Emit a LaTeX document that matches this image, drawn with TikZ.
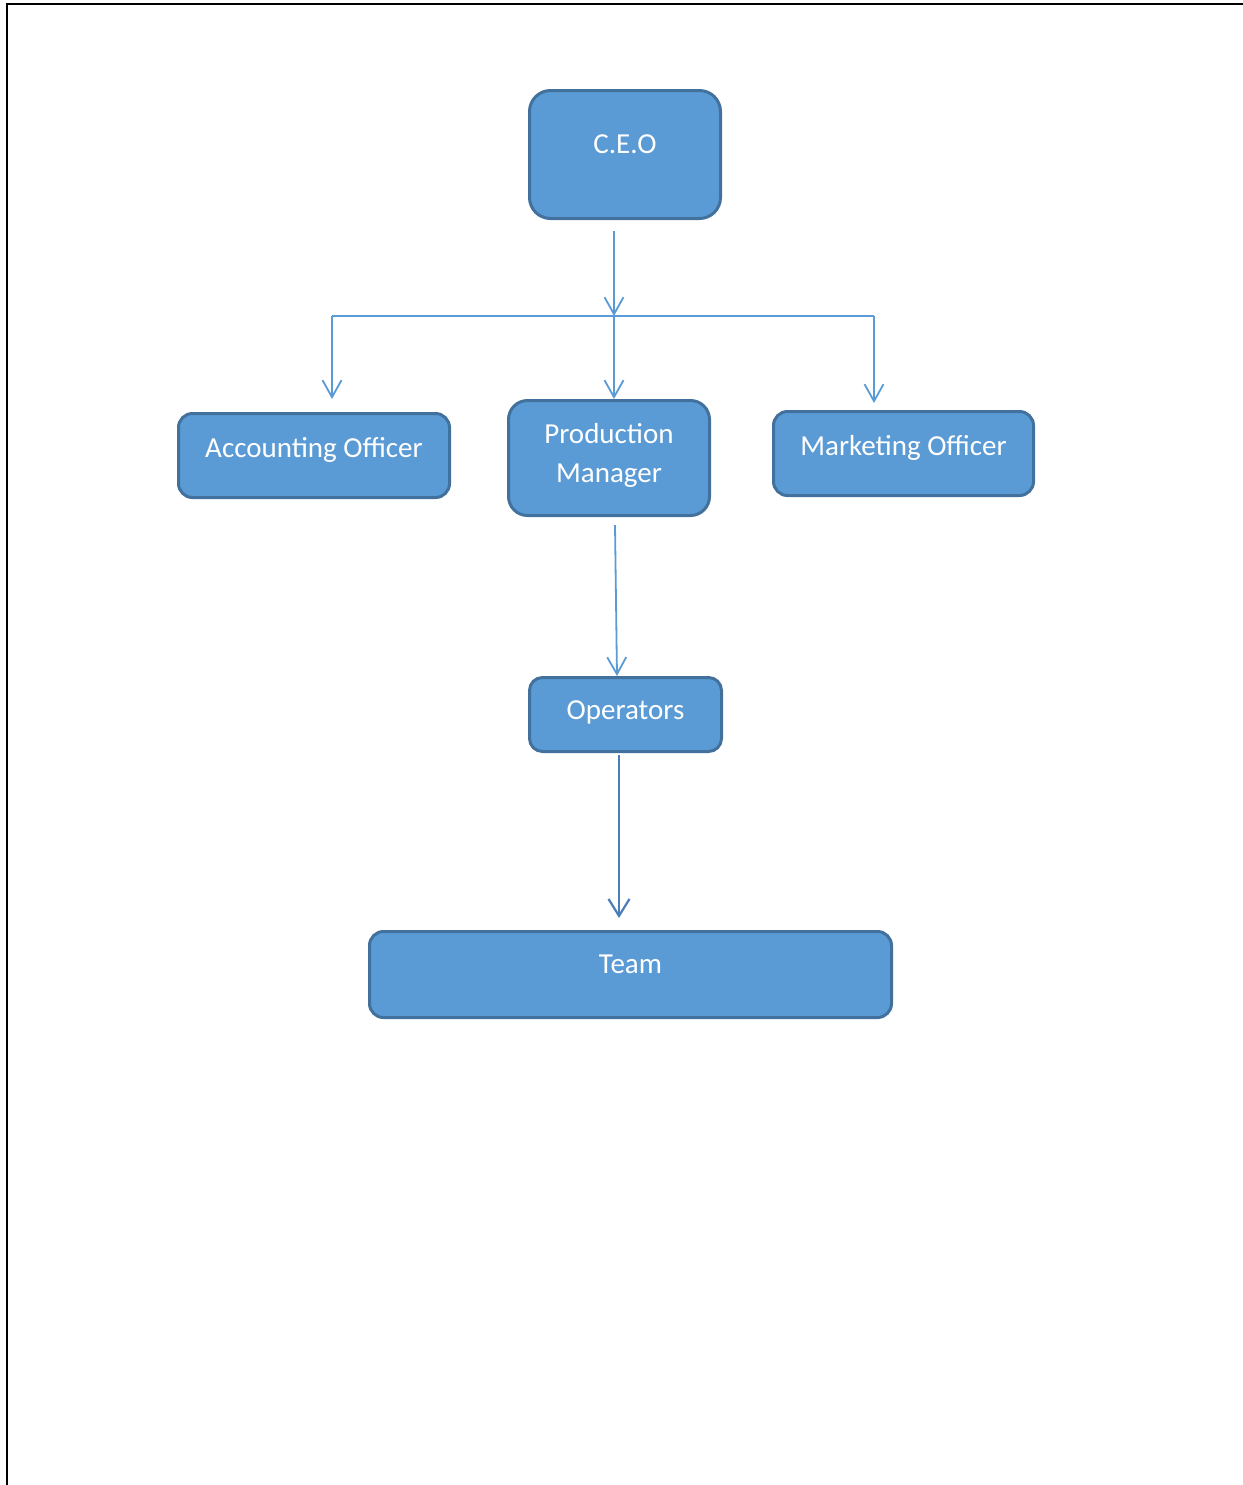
\documentclass[tikz,border=0pt]{standalone}
\usepackage{fontspec}
\setmainfont{Carlito}
\usetikzlibrary{arrows.meta}
\definecolor{boxfill}{HTML}{5B9BD5}
\definecolor{boxline}{HTML}{41719C}
\definecolor{connlight}{HTML}{5B9BD5}
\definecolor{conndark}{HTML}{4A7EBB}
\tikzset{
  orgbox/.style={draw=boxline, fill=boxfill, line width=1.5pt, inner sep=0pt,
    text=white, font=\fontsize{14.5}{19.5}\selectfont, text height=0pt, text depth=0pt},
  conn/.style={draw=connlight, line width=0.9pt, -{Straight Barb[length=8.5pt,width=9.5pt]}},
  conndk/.style={draw=conndark, line width=1.1pt, -{Straight Barb[length=8.5pt,width=10.5pt]}},
  plainconn/.style={draw=connlight, line width=0.9pt},
  frameline/.style={draw=black, line width=1pt}
}
\begin{document}
\begin{tikzpicture}[x=0.5pt,y=-0.5pt]
\useasboundingbox (0,0) rectangle (1243,1485);
\draw[frameline] (7,1485) -- (7,4) -- (1243,4);

\node[orgbox, minimum width=95.5pt, minimum height=64pt, rounded corners=10.5pt] (ceo) at (625,154.5) {\raisebox{0.75pt}{C.E.O}};
\node[orgbox, minimum width=135.5pt, minimum height=42pt, rounded corners=7pt] (acc) at (314,455.5) {\raisebox{-0.75pt}{Accounting Officer}};
\node[orgbox, minimum width=100.5pt, minimum height=57.5pt, rounded corners=9.5pt] (pm) at (609,458) {\raisebox{-12pt}{\begin{tabular}[b]{@{}c@{}}Production\\Manager\end{tabular}}};
\node[orgbox, minimum width=130pt, minimum height=42pt, rounded corners=7pt] (mkt) at (903.5,453.5) {\raisebox{-0.8pt}{Marketing Officer}};
\node[orgbox, minimum width=96pt, minimum height=37pt, rounded corners=6.5pt] (ops) at (625.5,714.5) {\raisebox{-2.4pt}{Operators}};
\node[orgbox, minimum width=261pt, minimum height=43pt, rounded corners=7pt] (team) at (630.5,974.5) {\raisebox{0.75pt}{Team}};

\coordinate (jl) at (332,316);
\coordinate (jm) at (614,316);
\coordinate (jr) at (874,316);

\draw[conn, shorten <=5.5pt] (ceo.south -| jm) -- (jm);
\draw[plainconn] (jl) -- (jr);
\draw[conn, shorten >=6.5pt] (jl) -- (jl |- acc.north);
\draw[conn] (jm) -- (jm |- pm.north);
\draw[conn, shorten >=3.5pt] (jr) -- (jr |- mkt.north);
\draw[conn] ([xshift=3pt,yshift=-4pt]pm.south) -- ([xshift=-4.25pt]ops.north);
\draw[conndk, shorten >=6pt] ([xshift=-3.25pt,yshift=-1pt]ops.south) -- ([xshift=-5.75pt]team.north);
\end{tikzpicture}
\end{document}
